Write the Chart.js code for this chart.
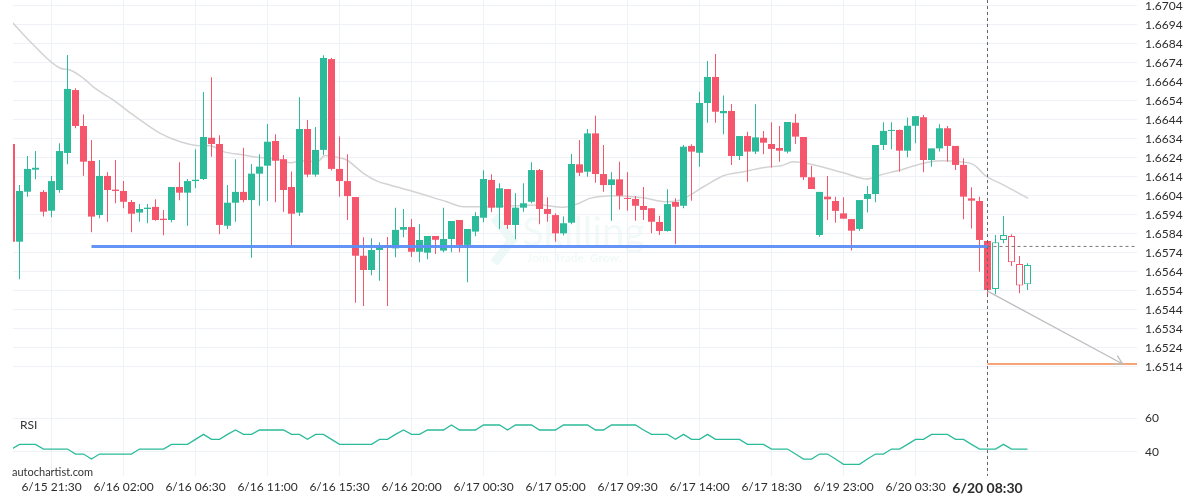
<!DOCTYPE html>
<html>
<head>
<meta charset="utf-8">
<script src="https://cdn.jsdelivr.net/npm/chart.js@4/dist/chart.umd.min.js"></script>
<style>
html,body{margin:0;padding:0;background:#fff;}
#wrap{position:relative;width:1200px;height:500px;overflow:hidden;font-family:Lato,"Open Sans",sans-serif;}
#c{position:absolute;left:0;top:0;}
.wm{position:absolute;color:rgba(43,187,155,0.085);white-space:nowrap;}
#wmName{left:522px;top:211px;font-size:40px;line-height:40px;font-weight:400;}
#wmTag{left:527px;top:252px;font-size:12px;line-height:12px;font-weight:700;}
#wmIcon{position:absolute;left:488px;top:214px;}
#rsiLabel{position:absolute;left:20px;top:418px;font-size:12px;line-height:14px;color:#333;}
#brand{position:absolute;left:12px;top:465px;font-size:11px;line-height:14px;color:#333;}
</style>
</head>
<body>
<div id="wrap">
  <svg id="wmIcon" width="30" height="52"><polyline points="6,3 24,26 6,49" fill="none" stroke="rgba(43,187,155,0.085)" stroke-width="9"/></svg>
  <div class="wm" id="wmName">Skilling</div>
  <div class="wm" id="wmTag">Join. Trade. Grow.</div>
  <canvas id="c" width="1200" height="500"></canvas>
  <div id="rsiLabel">RSI</div>
  <div id="brand">autochartist.com</div>
</div>
<script>
// ---------------- DATA ----------------
const timeLabels = ['6/15 21:30','6/16 02:00','6/16 06:30','6/16 11:00','6/16 15:30','6/16 20:00','6/17 00:30','6/17 05:00','6/17 09:30','6/17 14:00','6/17 18:30','6/19 23:00','6/20 03:30','6/20 08:30'];
const timeTickIndex = [5,14,23,32,41,50,59,68,77,86,95,104,113,122];
const priceTicks = [1.6704,1.6694,1.6684,1.6674,1.6664,1.6654,1.6644,1.6634,1.6624,1.6614,1.6604,1.6594,1.6584,1.6574,1.6564,1.6554,1.6544,1.6534,1.6524,1.6514];
const rsiTicks = [40,60];

const open = [1.66312,1.65798,1.66061,1.66177,1.66060,1.65961,1.66070,1.66265,1.66596,1.66407,
1.66223,1.65938,1.66144,1.66072,1.66065,1.66007,1.65951,1.65970,1.65981,1.65919,
1.65912,1.66086,1.66056,1.66117,1.66128,1.66345,1.66312,1.65882,1.66003,1.66060,
1.66017,1.66156,1.66198,1.66328,1.66232,1.66086,1.65951,1.66391,1.66151,1.66281,
1.66759,1.66181,1.66117,1.66033,1.65724,1.65649,1.65754,1.65777,1.65763,1.65861,
1.65875,1.65745,1.65740,1.65828,1.65751,1.65812,1.65912,1.65781,1.65851,1.65924,
1.66123,1.65977,1.66075,1.65886,1.65977,1.66008,1.66175,1.65970,1.65938,1.65842,
1.65898,1.66205,1.66166,1.66368,1.66154,1.66096,1.66126,1.66028,1.66023,1.65986,
1.65974,1.65902,1.65854,1.66007,1.65987,1.66302,1.66266,1.66528,1.66665,1.66474,
1.66486,1.66249,1.66354,1.66272,1.66345,1.66312,1.66291,1.66272,1.66424,1.66349,
1.66137,1.65833,1.66035,1.66012,1.65947,1.65917,1.65865,1.66023,1.66049,1.66307,
1.66381,1.66386,1.66277,1.66408,1.66453,1.66228,1.66289,1.66395,1.66302,1.66202,
1.66026,1.66012,1.65802,1.65549,1.65807,1.65828,1.65681,1.65574];
const high = [1.66312,1.66096,1.66249,1.66275,1.66070,1.66144,1.66316,1.66781,1.66605,1.66468,
1.66333,1.66228,1.66163,1.66228,1.66117,1.66017,1.65996,1.65996,1.66021,1.65965,
1.66086,1.66216,1.66128,1.66284,1.66586,1.66663,1.66358,1.66096,1.66232,1.66293,
1.66207,1.66258,1.66417,1.66363,1.66254,1.66168,1.66558,1.66438,1.66402,1.66779,
1.66765,1.66351,1.66258,1.66033,1.65821,1.65816,1.65795,1.65823,1.65977,1.65970,
1.65917,1.65890,1.65828,1.65828,1.65977,1.65907,1.65912,1.65865,1.65953,1.66174,
1.66153,1.66105,1.66075,1.66053,1.66105,1.66216,1.66181,1.66032,1.65947,1.65930,
1.66259,1.66333,1.66391,1.66461,1.66307,1.66163,1.66219,1.66163,1.66038,1.66086,
1.65974,1.65935,1.66074,1.66026,1.66307,1.66311,1.66587,1.66749,1.66786,1.66568,
1.66523,1.66354,1.66377,1.66521,1.66381,1.66426,1.66407,1.66428,1.66470,1.66349,
1.66198,1.66060,1.66144,1.66035,1.66032,1.65917,1.66017,1.66091,1.66307,1.66426,
1.66426,1.66389,1.66451,1.66459,1.66465,1.66289,1.66416,1.66407,1.66302,1.66237,
1.66084,1.66035,1.65802,1.65833,1.65933,1.65837,1.65723,1.65684];
const low = [1.65798,1.65600,1.66035,1.66126,1.65930,1.65926,1.66056,1.66205,1.66395,1.66145,
1.65847,1.65921,1.65903,1.66000,1.65974,1.65847,1.65903,1.65895,1.65908,1.65832,
1.65900,1.66016,1.65882,1.66079,1.66123,1.66245,1.65837,1.65865,1.65903,1.66005,
1.65714,1.65987,1.66012,1.66005,1.65956,1.65775,1.65933,1.66137,1.66140,1.66254,
1.66172,1.66035,1.65912,1.65477,1.65460,1.65621,1.65593,1.65460,1.65716,1.65821,
1.65717,1.65690,1.65705,1.65733,1.65742,1.65742,1.65742,1.65584,1.65826,1.65900,
1.65953,1.65865,1.65865,1.65811,1.65956,1.66000,1.65890,1.65903,1.65798,1.65830,
1.65890,1.66144,1.66140,1.66108,1.66061,1.65908,1.65968,1.65961,1.65908,1.65912,
1.65842,1.65833,1.65851,1.65784,1.65974,1.66014,1.66193,1.66424,1.66424,1.66363,
1.66202,1.66228,1.66114,1.66259,1.66258,1.66189,1.66219,1.66263,1.66312,1.66123,
1.66075,1.65824,1.65912,1.65898,1.65919,1.65751,1.65856,1.65951,1.66005,1.66281,
1.66284,1.66166,1.66242,1.66316,1.66163,1.66193,1.66272,1.66219,1.66175,1.65916,
1.65868,1.65640,1.65512,1.65521,1.65790,1.65670,1.65526,1.65544];
const close = [1.65798,1.66065,1.66181,1.66187,1.65956,1.66117,1.66275,1.66602,1.66407,1.66219,
1.65930,1.66144,1.66070,1.66065,1.66008,1.65945,1.65970,1.65977,1.65912,1.65912,
1.66086,1.66056,1.66117,1.66124,1.66349,1.66312,1.65886,1.66003,1.66060,1.66017,
1.66156,1.66193,1.66324,1.66224,1.66070,1.65945,1.66391,1.66151,1.66281,1.66765,
1.66181,1.66117,1.66038,1.65724,1.65649,1.65754,1.65770,1.65770,1.65860,1.65875,
1.65745,1.65807,1.65828,1.65808,1.65812,1.65907,1.65781,1.65865,1.65933,1.66128,
1.65977,1.66079,1.65886,1.65977,1.66000,1.66175,1.65970,1.65944,1.65842,1.65895,
1.66207,1.66161,1.66368,1.66154,1.66096,1.66126,1.66040,1.66023,1.65987,1.65965,
1.65903,1.65854,1.65996,1.65982,1.66298,1.66272,1.66528,1.66665,1.66482,1.66486,
1.66249,1.66354,1.66272,1.66347,1.66319,1.66286,1.66277,1.66428,1.66351,1.66137,
1.66075,1.66060,1.66021,1.65960,1.65919,1.65856,1.66017,1.66049,1.66307,1.66381,
1.66386,1.66277,1.66408,1.66459,1.66228,1.66289,1.66395,1.66302,1.66202,1.66035,
1.66014,1.65807,1.65544,1.65795,1.65833,1.65690,1.65568,1.65675];
const hollowFrom = 123;

const rsi = [41.6,44.4,44.4,44.4,41.6,41.6,41.6,41.6,38.6,38.6,35.6,38.6,38.6,38.6,38.6,38.6,41.6,41.6,41.6,41.6,
44.4,44.4,44.4,47.4,50.4,47.4,47.4,50.4,53.0,50.4,50.4,53.0,53.0,53.0,
53.0,50.4,50.4,47.4,50.4,50.4,47.4,44.4,44.4,44.4,44.4,44.4,47.4,47.4,50.4,53.0,50.4,50.4,53.0,53.0,53.0,56.0,53.0,53.0,53.0,56.0,56.0,56.0,53.0,56.0,56.0,56.0,53.0,53.0,
53.0,56.0,56.0,56.0,56.0,53.0,53.0,56.0,56.0,56.0,56.0,53.0,50.4,50.4,50.4,47.4,50.4,47.4,47.4,50.4,47.4,47.4,47.4,47.4,44.4,44.4,44.4,41.6,41.6,41.6,38.6,35.6,35.6,38.6,
38.6,35.6,32.4,32.4,32.4,35.6,38.6,38.6,41.6,41.6,44.4,47.4,47.4,50.4,50.4,50.4,47.4,47.4,44.4,41.6,41.6,41.6,44.4,41.6,41.6,41.6];

const maIndex = [0,2.75,6.1,7.3,9,10.25,12.7,15.2,18.6,21.1,23.6,24.8,26.5,29,30.7,33.2,34.8,36.5,38.2,39.2,40.7,41.9,44,45.7,47.3,50.3,54.4,56.5,58.6,62.75,66.1,69,71.1,72.3,75.25,79,81.9,83.6,86.5,89,91.5,94.8,96.1,97.75,99.8,104,106.9,108.6,111.1,113.2,116.1,118.6,120.3,121.9,123.6,127.1];
const maValue = [1.66957,1.66833,1.66711,1.66702,1.66658,1.66611,1.66544,1.66465,1.66368,1.66324,1.66303,1.66303,1.66272,1.66254,1.66242,1.66233,1.66214,1.66223,1.66219,1.66251,1.66242,1.66228,1.66158,1.66117,1.66096,1.66061,1.66008,1.65982,1.65982,1.65987,1.65991,1.65979,1.66003,1.66026,1.66040,1.66029,1.66008,1.66017,1.66087,1.66145,1.66166,1.66193,1.66196,1.66219,1.66207,1.66161,1.66128,1.66149,1.66175,1.66202,1.66224,1.66219,1.66202,1.66140,1.66105,1.66026];

const supportLevel = 1.65773;
const supportStartIndex = 10;
const patternEndIndex = 122;
const targetLevel = 1.65154;
const forecastFrom = {x:122, y:1.65538};
const forecastTo = {x:138.9, y:1.65154};

// ---------------- GEOMETRY ----------------
const PX_PER_BAR = 8, PLOT_LEFT = 13, PLOT_W = 1124, FIRST_BAR_X = 11.5;
const X_MIN = (PLOT_LEFT - FIRST_BAR_X) / PX_PER_BAR;
const X_MAX = X_MIN + PLOT_W / PX_PER_BAR;
const PLOT_H = 476;
const Y_MAX = 1.6707, Y_MIN = Y_MAX - PLOT_H / 19000;
const R_PX = 33.4 / 20;
const R_MAX = 40 + 451.7 / R_PX, R_MIN = 40 - (PLOT_H - 451.7) / R_PX;

const GREEN = '#2bbb9b', RED = '#f6566c';
const GRID = '#eef2f6';
const idx = open.map((_, i) => i);
const colorOf = i => (close[i] >= open[i] ? GREEN : RED);

const zeroPad = ax => { ax.paddingTop = 0; ax.paddingBottom = 0; ax.paddingLeft = 0; ax.paddingRight = 0; };

const arrowHead = {
  id: 'arrowHead',
  afterLayout(chart) {
    // let the zero-width RSI axis draw its labels in the right margin
    const s = chart.scales.y2;
    if (s) s.right = chart.width;
  },
  afterDatasetsDraw(chart) {
    const meta = chart.getDatasetMeta(7);
    const a = meta.data[0], b = meta.data[1];
    if (!a || !b) return;
    const ang = Math.atan2(b.y - a.y, b.x - a.x);
    const ctx = chart.ctx;
    ctx.save();
    ctx.strokeStyle = '#bdbdbd';
    ctx.lineWidth = 1.3;
    ctx.beginPath();
    const L = 10;
    ctx.moveTo(b.x + L * Math.cos(ang + Math.PI - 0.5), b.y + L * Math.sin(ang + Math.PI - 0.5));
    ctx.lineTo(b.x, b.y);
    ctx.lineTo(b.x + L * Math.cos(ang + Math.PI + 0.5), b.y + L * Math.sin(ang + Math.PI + 0.5));
    ctx.stroke();
    ctx.restore();
  }
};

Chart.defaults.font.family = 'Lato, "Open Sans", sans-serif';
Chart.defaults.color = '#333';

new Chart(document.getElementById('c'), {
  type: 'bar',
  data: {
    datasets: [
      { // 0 bodies
        type: 'bar', data: idx.map(i => ({x: i, y: [open[i], close[i]]})), yAxisID: 'y',
        grouped: false, barPercentage: 1, categoryPercentage: 1, maxBarThickness: 7, minBarLength: 1,
        inflateAmount: 0, borderSkipped: false,
        backgroundColor: c => (c.dataIndex >= hollowFrom ? '#ffffff' : colorOf(c.dataIndex)),
        borderColor: c => colorOf(c.dataIndex),
        borderWidth: c => (c.dataIndex >= hollowFrom ? 1 : 0),
        order: 2
      },
      { // 1 wicks
        type: 'bar', data: idx.map(i => ({x: i, y: [low[i], high[i]]})), yAxisID: 'y',
        grouped: false, barPercentage: 1, categoryPercentage: 1, maxBarThickness: 1,
        inflateAmount: 0, borderWidth: 0,
        backgroundColor: c => colorOf(c.dataIndex),
        order: 3
      },
      { // 2 moving average
        type: 'line', data: maIndex.map((x, k) => ({x, y: maValue[k]})), yAxisID: 'y',
        borderColor: '#d3d3d3', borderWidth: 1.5, pointRadius: 0, cubicInterpolationMode: 'monotone',
        order: 5
      },
      { // 3 support line
        type: 'line', data: [{x: supportStartIndex, y: supportLevel}, {x: patternEndIndex, y: supportLevel}], yAxisID: 'y',
        borderColor: 'rgba(92,143,245,0.95)', borderWidth: 3, pointRadius: 0, order: 0
      },
      { // 4 crosshair horizontal
        type: 'line', data: [{x: patternEndIndex, y: supportLevel}, {x: X_MAX, y: supportLevel}], yAxisID: 'y',
        borderColor: '#777', borderWidth: 1, borderDash: [3, 3], pointRadius: 0, order: 1
      },
      { // 5 crosshair vertical
        type: 'line', data: [{x: patternEndIndex, y: Y_MAX}, {x: patternEndIndex, y: Y_MIN}], yAxisID: 'y',
        borderColor: '#666', borderWidth: 1, borderDash: [3, 3], pointRadius: 0, order: 1
      },
      { // 6 target
        type: 'line', data: [{x: patternEndIndex, y: targetLevel}, {x: X_MAX, y: targetLevel}], yAxisID: 'y',
        borderColor: '#f5874a', borderWidth: 1.5, pointRadius: 0, order: 1
      },
      { // 7 forecast arrow
        type: 'line', data: [forecastFrom, forecastTo], yAxisID: 'y',
        borderColor: '#bdbdbd', borderWidth: 1.3, pointRadius: 0, order: 1
      },
      { // 8 RSI
        type: 'line', data: idx.map(i => ({x: i, y: rsi[i]})), yAxisID: 'y2',
        borderColor: '#2bbb9b', borderWidth: 1.3, pointRadius: 0, order: 1
      }
    ]
  },
  options: {
    responsive: false,
    animation: false,
    devicePixelRatio: 1,
    layout: {padding: {left: PLOT_LEFT, top: 0, right: 0, bottom: 0}},
    plugins: {legend: {display: false}, tooltip: {enabled: false}},
    scales: {
      x: {
        type: 'linear', min: X_MIN, max: X_MAX, bounds: 'data', offset: false,
        afterBuildTicks: ax => { ax.ticks = timeTickIndex.map(v => ({value: v})); },
        ticks: {
          autoSkip: false, maxRotation: 0, minRotation: 0, padding: 4, color: '#2d2d2d',
          font: c => (c.index === timeTickIndex.length - 1 ? {size: 14, weight: 'bold'} : {size: 12}),
          callback: (v, i) => timeLabels[i]
        },
        grid: {color: GRID, drawTicks: false, offset: false},
        border: {display: false},
        afterFit: ax => { ax.height = 24; zeroPad(ax); }
      },
      y: {
        type: 'linear', position: 'right', weight: 1, min: Y_MIN, max: Y_MAX, bounds: 'data',
        afterBuildTicks: ax => { ax.ticks = priceTicks.map(v => ({value: v})); },
        ticks: {padding: 8, color: '#2d2d2d', font: {size: 12}, callback: v => v.toFixed(4)},
        grid: {color: GRID, drawTicks: false},
        border: {display: false},
        afterFit: ax => { ax.width = 63; zeroPad(ax); }
      },
      y2: {
        type: 'linear', position: 'right', weight: 0, min: R_MIN, max: R_MAX, bounds: 'data',
        afterBuildTicks: ax => { ax.ticks = rsiTicks.map(v => ({value: v})); },
        ticks: {padding: 8, color: '#2d2d2d', font: {size: 12}, callback: v => String(v)},
        grid: {color: GRID, drawTicks: false},
        border: {display: false},
        afterFit: ax => { ax.width = 0; zeroPad(ax); }
      }
    }
  },
  plugins: [arrowHead]
});
</script>
</body>
</html>
